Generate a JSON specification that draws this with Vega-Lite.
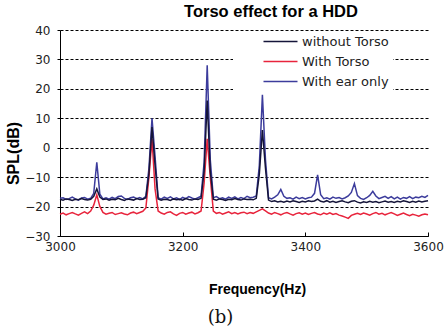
{
"$schema":"https://vega.github.io/schema/vega-lite/v6.json",
"width":368,"height":206,
"autosize":{"type":"none"},
"padding":{"left":60,"top":30,"right":16,"bottom":99},
"background":"white",
"title":{"text":"Torso effect for a HDD","font":"Liberation Sans","fontSize":16.5,"fontWeight":"bold","color":"#000","anchor":"middle","frame":"group","dx":27,"offset":4},
"config":{"view":{"stroke":null}},
"data":{"values":[
{"f":3000,"without Torso":-17.5,"With Torso":-22.6,"With ear only":-17.2},
{"f":3005,"without Torso":-17.8,"With Torso":-22.2,"With ear only":-17.0},
{"f":3010,"without Torso":-17.4,"With Torso":-22.8,"With ear only":-17.6},
{"f":3015,"without Torso":-17.6,"With Torso":-22.4,"With ear only":-17.3},
{"f":3020,"without Torso":-17.9,"With Torso":-22.0,"With ear only":-16.8},
{"f":3025,"without Torso":-17.5,"With Torso":-22.5,"With ear only":-17.4},
{"f":3030,"without Torso":-17.7,"With Torso":-22.9,"With ear only":-17.8},
{"f":3035,"without Torso":-17.3,"With Torso":-22.3,"With ear only":-17.1},
{"f":3040,"without Torso":-17.6,"With Torso":-21.8,"With ear only":-16.9},
{"f":3045,"without Torso":-17.8,"With Torso":-22.4,"With ear only":-17.5},
{"f":3050,"without Torso":-17.5,"With Torso":-21.5,"With ear only":-17.2},
{"f":3055,"without Torso":-16.5,"With Torso":-19.5,"With ear only":-15.5},
{"f":3060,"without Torso":-14.0,"With Torso":-16.0,"With ear only":-5.0},
{"f":3065,"without Torso":-16.8,"With Torso":-20.0,"With ear only":-15.8},
{"f":3070,"without Torso":-17.6,"With Torso":-22.0,"With ear only":-17.4},
{"f":3075,"without Torso":-17.4,"With Torso":-22.6,"With ear only":-17.0},
{"f":3080,"without Torso":-17.8,"With Torso":-22.3,"With ear only":-17.5},
{"f":3085,"without Torso":-17.5,"With Torso":-22.0,"With ear only":-16.9},
{"f":3090,"without Torso":-17.7,"With Torso":-22.7,"With ear only":-17.3},
{"f":3095,"without Torso":-17.2,"With Torso":-22.4,"With ear only":-16.6},
{"f":3100,"without Torso":-17.6,"With Torso":-22.1,"With ear only":-16.4},
{"f":3105,"without Torso":-17.9,"With Torso":-22.5,"With ear only":-17.2},
{"f":3110,"without Torso":-17.4,"With Torso":-22.8,"With ear only":-17.6},
{"f":3115,"without Torso":-17.6,"With Torso":-22.2,"With ear only":-17.0},
{"f":3120,"without Torso":-17.8,"With Torso":-21.9,"With ear only":-16.8},
{"f":3125,"without Torso":-17.3,"With Torso":-22.4,"With ear only":-17.3},
{"f":3130,"without Torso":-17.6,"With Torso":-22.0,"With ear only":-16.9},
{"f":3135,"without Torso":-17.5,"With Torso":-21.6,"With ear only":-17.4},
{"f":3140,"without Torso":-17.0,"With Torso":-20.5,"With ear only":-16.5},
{"f":3145,"without Torso":-9.0,"With Torso":-10.0,"With ear only":-7.0},
{"f":3150,"without Torso":7.0,"With Torso":3.0,"With ear only":10.0},
{"f":3155,"without Torso":-6.0,"With Torso":-14.0,"With ear only":-3.0},
{"f":3160,"without Torso":-17.4,"With Torso":-21.5,"With ear only":-17.0},
{"f":3165,"without Torso":-17.8,"With Torso":-22.2,"With ear only":-17.5},
{"f":3170,"without Torso":-17.5,"With Torso":-22.6,"With ear only":-16.8},
{"f":3175,"without Torso":-17.6,"With Torso":-22.0,"With ear only":-17.2},
{"f":3180,"without Torso":-17.9,"With Torso":-21.8,"With ear only":-16.7},
{"f":3185,"without Torso":-17.4,"With Torso":-22.5,"With ear only":-17.4},
{"f":3190,"without Torso":-17.7,"With Torso":-23.0,"With ear only":-17.0},
{"f":3195,"without Torso":-17.5,"With Torso":-22.3,"With ear only":-17.6},
{"f":3200,"without Torso":-17.8,"With Torso":-22.0,"With ear only":-16.9},
{"f":3205,"without Torso":-17.3,"With Torso":-22.6,"With ear only":-17.3},
{"f":3210,"without Torso":-17.6,"With Torso":-22.2,"With ear only":-16.6},
{"f":3215,"without Torso":-17.8,"With Torso":-21.9,"With ear only":-17.1},
{"f":3220,"without Torso":-17.4,"With Torso":-22.5,"With ear only":-17.5},
{"f":3225,"without Torso":-17.6,"With Torso":-22.1,"With ear only":-17.0},
{"f":3230,"without Torso":-17.2,"With Torso":-21.5,"With ear only":-16.5},
{"f":3235,"without Torso":-8.0,"With Torso":-12.0,"With ear only":-5.0},
{"f":3240,"without Torso":16.0,"With Torso":3.0,"With ear only":28.0},
{"f":3245,"without Torso":-8.0,"With Torso":-10.0,"With ear only":-4.0},
{"f":3250,"without Torso":-17.5,"With Torso":-21.5,"With ear only":-17.0},
{"f":3255,"without Torso":-17.8,"With Torso":-22.3,"With ear only":-16.6},
{"f":3260,"without Torso":-17.4,"With Torso":-22.0,"With ear only":-17.3},
{"f":3265,"without Torso":-17.6,"With Torso":-22.6,"With ear only":-17.0},
{"f":3270,"without Torso":-17.9,"With Torso":-22.2,"With ear only":-17.5},
{"f":3275,"without Torso":-17.5,"With Torso":-21.8,"With ear only":-16.8},
{"f":3280,"without Torso":-17.7,"With Torso":-22.4,"With ear only":-17.2},
{"f":3285,"without Torso":-17.3,"With Torso":-22.0,"With ear only":-16.7},
{"f":3290,"without Torso":-17.6,"With Torso":-22.5,"With ear only":-17.4},
{"f":3295,"without Torso":-17.8,"With Torso":-22.1,"With ear only":-16.9},
{"f":3300,"without Torso":-17.4,"With Torso":-21.9,"With ear only":-17.3},
{"f":3305,"without Torso":-17.6,"With Torso":-22.4,"With ear only":-16.5},
{"f":3310,"without Torso":-17.5,"With Torso":-22.0,"With ear only":-17.0},
{"f":3315,"without Torso":-17.7,"With Torso":-22.3,"With ear only":-16.8},
{"f":3320,"without Torso":-17.2,"With Torso":-21.8,"With ear only":-16.4},
{"f":3325,"without Torso":-9.0,"With Torso":-21.3,"With ear only":-6.0},
{"f":3330,"without Torso":6.0,"With Torso":-20.8,"With ear only":18.0},
{"f":3335,"without Torso":-7.0,"With Torso":-21.5,"With ear only":-4.0},
{"f":3340,"without Torso":-17.8,"With Torso":-22.2,"With ear only":-17.0},
{"f":3345,"without Torso":-18.3,"With Torso":-22.6,"With ear only":-17.4},
{"f":3350,"without Torso":-18.0,"With Torso":-22.0,"With ear only":-16.8},
{"f":3355,"without Torso":-18.4,"With Torso":-22.4,"With ear only":-16.0},
{"f":3360,"without Torso":-18.2,"With Torso":-22.8,"With ear only":-14.2},
{"f":3365,"without Torso":-18.5,"With Torso":-22.3,"With ear only":-16.5},
{"f":3370,"without Torso":-18.1,"With Torso":-22.0,"With ear only":-17.2},
{"f":3375,"without Torso":-18.4,"With Torso":-22.5,"With ear only":-17.0},
{"f":3380,"without Torso":-18.0,"With Torso":-22.9,"With ear only":-17.5},
{"f":3385,"without Torso":-18.3,"With Torso":-22.4,"With ear only":-16.8},
{"f":3390,"without Torso":-18.6,"With Torso":-22.1,"With ear only":-17.3},
{"f":3395,"without Torso":-18.2,"With Torso":-22.6,"With ear only":-16.9},
{"f":3400,"without Torso":-18.4,"With Torso":-22.2,"With ear only":-17.4},
{"f":3405,"without Torso":-18.0,"With Torso":-22.7,"With ear only":-17.0},
{"f":3410,"without Torso":-18.3,"With Torso":-22.3,"With ear only":-16.8},
{"f":3415,"without Torso":-18.1,"With Torso":-22.0,"With ear only":-15.5},
{"f":3420,"without Torso":-17.5,"With Torso":-22.5,"With ear only":-9.2},
{"f":3425,"without Torso":-18.2,"With Torso":-22.8,"With ear only":-16.0},
{"f":3430,"without Torso":-18.4,"With Torso":-22.2,"With ear only":-17.3},
{"f":3435,"without Torso":-18.0,"With Torso":-22.6,"With ear only":-17.0},
{"f":3440,"without Torso":-18.5,"With Torso":-22.1,"With ear only":-17.5},
{"f":3445,"without Torso":-18.2,"With Torso":-22.7,"With ear only":-16.8},
{"f":3450,"without Torso":-18.6,"With Torso":-22.4,"With ear only":-17.2},
{"f":3455,"without Torso":-18.3,"With Torso":-22.9,"With ear only":-16.9},
{"f":3460,"without Torso":-18.0,"With Torso":-23.2,"With ear only":-17.4},
{"f":3465,"without Torso":-18.4,"With Torso":-23.6,"With ear only":-17.0},
{"f":3470,"without Torso":-18.7,"With Torso":-24.0,"With ear only":-16.4},
{"f":3475,"without Torso":-18.2,"With Torso":-23.0,"With ear only":-15.2},
{"f":3480,"without Torso":-18.0,"With Torso":-22.6,"With ear only":-12.2},
{"f":3485,"without Torso":-18.5,"With Torso":-22.3,"With ear only":-16.3},
{"f":3490,"without Torso":-18.8,"With Torso":-22.7,"With ear only":-17.2},
{"f":3495,"without Torso":-18.4,"With Torso":-22.2,"With ear only":-17.6},
{"f":3500,"without Torso":-18.6,"With Torso":-22.5,"With ear only":-17.0},
{"f":3505,"without Torso":-18.2,"With Torso":-22.9,"With ear only":-16.2},
{"f":3510,"without Torso":-18.5,"With Torso":-22.4,"With ear only":-14.8},
{"f":3515,"without Torso":-18.3,"With Torso":-22.0,"With ear only":-16.4},
{"f":3520,"without Torso":-18.7,"With Torso":-22.6,"With ear only":-17.3},
{"f":3525,"without Torso":-18.4,"With Torso":-22.3,"With ear only":-16.9},
{"f":3530,"without Torso":-18.1,"With Torso":-22.8,"With ear only":-16.5},
{"f":3535,"without Torso":-18.5,"With Torso":-22.4,"With ear only":-17.2},
{"f":3540,"without Torso":-18.3,"With Torso":-22.0,"With ear only":-16.6},
{"f":3545,"without Torso":-18.6,"With Torso":-22.5,"With ear only":-17.4},
{"f":3550,"without Torso":-18.2,"With Torso":-23.0,"With ear only":-16.8},
{"f":3555,"without Torso":-18.4,"With Torso":-22.6,"With ear only":-17.5},
{"f":3560,"without Torso":-18.0,"With Torso":-22.2,"With ear only":-16.9},
{"f":3565,"without Torso":-18.3,"With Torso":-22.7,"With ear only":-17.2},
{"f":3570,"without Torso":-18.6,"With Torso":-23.1,"With ear only":-16.6},
{"f":3575,"without Torso":-18.2,"With Torso":-22.6,"With ear only":-17.3},
{"f":3580,"without Torso":-18.5,"With Torso":-22.9,"With ear only":-16.8},
{"f":3585,"without Torso":-18.1,"With Torso":-23.3,"With ear only":-17.0},
{"f":3590,"without Torso":-18.4,"With Torso":-22.8,"With ear only":-16.5},
{"f":3595,"without Torso":-18.2,"With Torso":-22.5,"With ear only":-16.9},
{"f":3600,"without Torso":-18.0,"With Torso":-22.8,"With ear only":-16.2}
]},
"transform":[{"fold":["With ear only","With Torso","without Torso"],"as":["series","spl"]}],
"layer":[
{"mark":{"type":"line","strokeWidth":1.5},
"encoding":{
"x":{"field":"f","type":"quantitative","scale":{"domain":[3000,3600],"nice":false,"zero":false},
"axis":{"orient":"bottom","values":[3000,3200,3400,3600],"format":"d","grid":false,"domainColor":"#000","domainWidth":1,"tickColor":"#000","tickSize":-4,"labelPadding":9,"labelFlush":false,"labelFont":"DejaVu Sans","labelFontSize":12,"labelColor":"#222","title":"Frequency(Hz)","titleFont":"Liberation Sans","titleFontSize":14,"titleFontWeight":"bold","titleColor":"#000","titleX":197,"titleY":53,"titleBaseline":"middle","titleAlign":"center"}},
"y":{"field":"spl","type":"quantitative","scale":{"domain":[-30,40],"nice":false,"zero":false},
"axis":{"values":[-30,-20,-10,0,10,20,30,40],"grid":true,"gridColor":"#000","gridDash":[3,2],"gridWidth":1,"gridOpacity":1,"domainColor":"#000","domainWidth":1,"tickColor":"#000","tickSize":3,"labelPadding":7,"labelFlush":false,"labelFont":"DejaVu Sans","labelFontSize":12,"labelColor":"#222","title":"SPL(dB)","titleFont":"Liberation Sans","titleFontSize":16,"titleFontWeight":"bold","titleColor":"#000","titleX":-47,"titleY":123,"titleBaseline":"middle","titleAlign":"center","titleAngle":270}},
"color":{"field":"series","type":"nominal","scale":{"domain":["without Torso","With Torso","With ear only"],"range":["#15153a","#e8243c","#3c3c9c"]},
"legend":{"orient":"none","legendX":173,"legendY":1,"title":" ","titleOrient":"left","titlePadding":37,"titleFontSize":13,"padding":4,"fillColor":"white","symbolType":"M-3.4,0H3.4","symbolSize":100,"symbolStrokeWidth":1.5,"labelFont":"DejaVu Sans","labelFontSize":13,"labelColor":"#222","labelOffset":15,"rowPadding":6}}
}},
{"mark":{"type":"point","opacity":0},
"encoding":{
"x":{"field":"f","type":"quantitative","axis":{"orient":"bottom","labels":false,"ticks":false,"domain":false,"grid":false,"title":"(b)","titleFont":"DejaVu Serif","titleFontSize":18,"titleFontWeight":"normal","titleColor":"#111","titleX":160,"titleY":81,"titleBaseline":"middle","titleAlign":"center"}}
}}
],
"resolve":{"axis":{"x":"independent"}}
}
